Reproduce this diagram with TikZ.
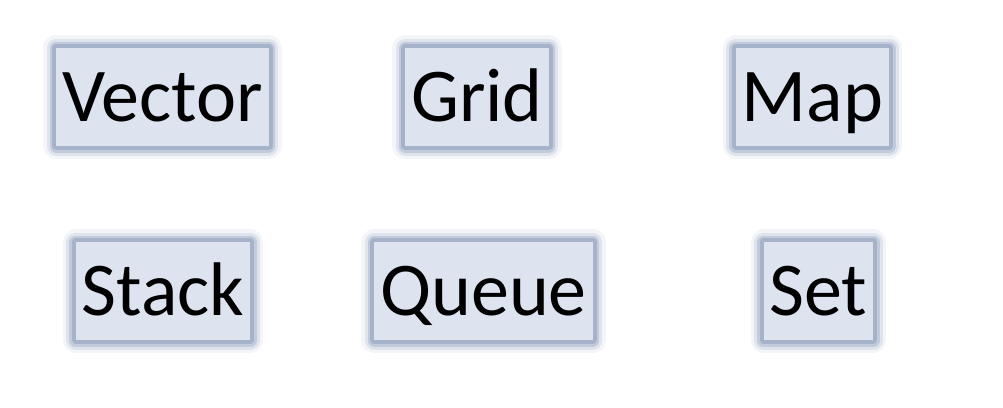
\documentclass[tikz,border=0pt]{standalone}
\usepackage{fontspec}
\setmainfont{Carlito}
\usetikzlibrary{positioning}
\definecolor{boxfill}{HTML}{DDE3EF}
\definecolor{glow}{HTML}{8D9DBB}
\begin{document}
\begin{tikzpicture}[x=1pt, y=-1pt, line join=round,
  main/.style = {fill=boxfill, inner xsep=6pt, inner ysep=0pt, minimum height=98pt,
    text height=49pt, text depth=0pt, font=\fontsize{76}{84}\selectfont,
    preaction={draw=glow, line width=26pt, opacity=0.1},
    preaction={draw=glow, line width=19pt, opacity=0.2},
    preaction={draw=glow, line width=13pt, opacity=0.35},
    preaction={draw=glow, line width=8pt, opacity=0.55}}]
\useasboundingbox (0,0) rectangle (1003,407);

\node[main] (vector) at (162.5,97) {Vector};
\node[main] (grid)   [right of=vector][node distance={314.5pt}] {Grid};
\node[main] (map)    [right of=grid][node distance={335.5pt}] {Map};
\node[main] (stack)  at (163,291) {Stack};
\node[main] (queue)  [right of=stack][node distance={320.5pt}] {Queue};
\node[main] (set)    [right of=queue][node distance={335pt}] {Set};

\end{tikzpicture}
\end{document}
